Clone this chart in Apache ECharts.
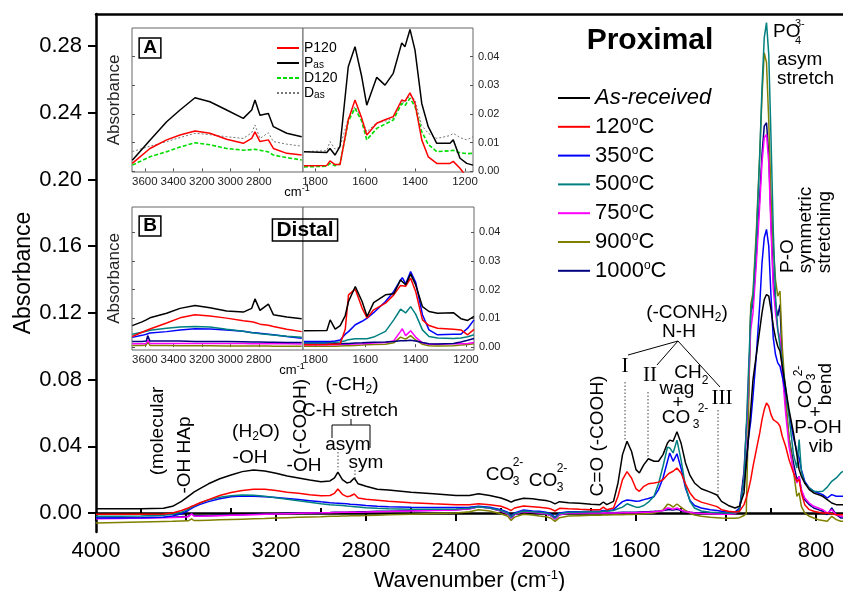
<!DOCTYPE html>
<html>
<head>
<meta charset="utf-8">
<title>Proximal FTIR spectra</title>
<script src="https://cdn.jsdelivr.net/npm/echarts@6/dist/echarts.min.js"></script>
<style>
  html, body {margin:0;padding:0;background:#fff;}
  #chart {width:843px;height:591px;}
</style>
</head>
<body>
<div id="chart"></div>
<script>
// ---- main spectra (wavenumber in cm-1) ----
var wn = [4000,3900,3800,3700,3660,3620,3590,3575,3565,3540,
  3500,3450,3400,3350,3300,3250,3200,3150,3100,3050,
  3000,2960,2940,2925,2905,2885,2870,2852,2835,2800,
  2750,2700,2600,2500,2400,2340,2300,2250,2200,2170,
  2155,2140,2100,2060,2030,2000,1980,1960,1940,1900,
  1850,1800,1760,1745,1730,1700,1680,1660,1640,1620,
  1600,1585,1565,1545,1520,1500,1480,1460,1450,1435,
  1418,1400,1380,1360,1340,1310,1270,1240,1220,1190,
  1160,1140,1120,1110,1100,1090,1080,1065,1050,1040,
  1030,1020,1010,1000,990,980,970,960,950,935,
  920,900,885,875,865,850,830,810,790,770,
  750,730,710,690,680];

var asReceived = [0.0025,0.0025,0.0025,0.0028,0.004,0.007,0.010,0.0115,0.0125,0.0145,
  0.0175,0.0205,0.0228,0.0248,0.0258,0.0252,0.0238,0.0222,0.021,0.0198,
  0.0188,0.0192,0.021,0.0245,0.020,0.018,0.0185,0.021,0.0175,0.016,
  0.0142,0.0138,0.0125,0.0115,0.0105,0.0105,0.0115,0.0105,0.009,0.0075,
  0.0065,0.0075,0.0088,0.0085,0.008,0.0075,0.0068,0.0055,0.0068,0.0062,
  0.0058,0.0052,0.005,0.0066,0.005,0.007,0.018,0.035,0.043,0.037,
  0.026,0.024,0.029,0.0325,0.031,0.031,0.035,0.042,0.0437,0.043,
  0.0487,0.042,0.030,0.0225,0.018,0.0145,0.0125,0.0108,0.007,0.0045,
  0.003,0.004,0.012,0.03,0.045,0.062,0.08,0.095,0.11,0.12,
  0.128,0.131,0.13,0.122,0.112,0.105,0.10,0.097,0.088,0.075,
  0.062,0.048,0.035,0.026,0.022,0.018,0.014,0.012,0.011,0.01,
  0.008,0.006,0.005,0.005,0.005];

var t120 = [-0.0008,-0.0008,-0.0007,-0.0006,0.0,0.0015,0.003,0.004,0.0045,0.006,
  0.008,0.0105,0.0123,0.0135,0.0142,0.0143,0.0135,0.0125,0.0118,0.011,
  0.0103,0.0105,0.0118,0.0144,0.0112,0.0098,0.0102,0.0114,0.009,0.0082,
  0.0076,0.007,0.0062,0.0055,0.005,0.005,0.0055,0.005,0.004,0.0025,
  0.0015,0.003,0.0042,0.0038,0.0035,0.003,0.0025,0.0012,0.0028,0.0025,
  0.0022,0.002,0.002,0.0035,0.002,0.003,0.01,0.02,0.0248,0.021,
  0.0145,0.013,0.016,0.0175,0.018,0.0185,0.02,0.023,0.024,0.025,
  0.027,0.024,0.0175,0.012,0.0085,0.0065,0.005,0.0038,0.002,0.001,
  0.0006,0.001,0.005,0.009,0.014,0.02,0.028,0.038,0.048,0.056,
  0.062,0.066,0.064,0.059,0.056,0.055,0.054,0.052,0.046,0.04,
  0.032,0.024,0.019,0.02,0.012,0.005,0.002,0.001,0.0005,0.0,
  0.0,-0.0005,-0.001,-0.001,-0.001];

var t350 = [-0.003,-0.003,-0.0028,-0.0025,-0.0018,-0.0005,0.0015,0.0028,0.0035,0.005,
  0.0068,0.0085,0.0097,0.0102,0.0101,0.0098,0.0093,0.0087,0.0081,0.0074,
  0.0067,0.0062,0.006,0.0059,0.0057,0.0055,0.0053,0.0051,0.0049,0.0045,
  0.004,0.0037,0.0034,0.0033,0.0033,0.0035,0.004,0.0035,0.002,0.0005,
  -0.002,0.0,0.0018,0.0012,0.001,0.0005,-0.0005,-0.0025,0.0,0.0008,
  0.0008,0.001,0.001,0.0015,0.0012,0.002,0.0045,0.0068,0.0078,0.0075,
  0.007,0.0072,0.008,0.0087,0.0098,0.014,0.021,0.031,0.036,0.031,
  0.0355,0.027,0.015,0.0075,0.0045,0.003,0.002,0.0015,0.001,0.0005,
  0.0005,0.003,0.018,0.03,0.045,0.055,0.07,0.095,0.125,0.15,
  0.165,0.17,0.16,0.13,0.105,0.095,0.09,0.088,0.082,0.072,
  0.06,0.045,0.037,0.033,0.026,0.019,0.015,0.013,0.012,0.011,
  0.009,0.011,0.01,0.01,0.01];

var t500 = [-0.002,-0.002,-0.0018,-0.0014,-0.0008,0.0005,0.0022,0.0035,0.0042,0.0058,
  0.0078,0.0095,0.0104,0.0108,0.0106,0.01,0.0092,0.0083,0.0073,0.0064,
  0.0056,0.005,0.0048,0.0047,0.0045,0.0042,0.004,0.0038,0.0036,0.0032,
  0.0028,0.0025,0.0022,0.0022,0.0024,0.0028,0.0038,0.003,0.0015,0.0,
  -0.0025,-0.0005,0.0012,0.0008,0.0005,0.0,-0.001,-0.003,-0.0005,0.0005,
  0.0006,0.0008,0.0008,0.001,0.001,0.0015,0.0025,0.0035,0.0055,0.0045,
  0.0035,0.0035,0.0045,0.0065,0.010,0.0175,0.028,0.0395,0.039,0.036,
  0.0437,0.032,0.016,0.007,0.003,0.0012,0.0005,0.0003,0.0002,0.0,
  0.0,0.002,0.02,0.05,0.085,0.12,0.13,0.165,0.215,0.255,
  0.285,0.294,0.275,0.225,0.17,0.13,0.11,0.1,0.09,0.075,
  0.058,0.035,0.027,0.044,0.025,0.018,0.015,0.013,0.0128,0.013,
  0.0155,0.019,0.021,0.024,0.025];

var t750 = [-0.0035,-0.0033,-0.003,-0.0028,-0.0027,-0.0025,-0.0022,-0.0005,-0.0018,-0.002,
  -0.0018,-0.0016,-0.0014,-0.0012,-0.001,-0.0008,-0.0006,-0.0004,-0.0002,0.0,
  0.0001,0.0002,0.0003,0.0003,0.0004,0.0004,0.0005,0.0005,0.0005,0.0006,
  0.0008,0.0009,0.0012,0.0015,0.0018,0.0025,0.0038,0.003,0.0012,-0.0005,
  -0.003,-0.001,0.0008,0.0005,0.0,-0.0005,-0.0015,-0.0035,-0.001,0.0,
  0.0,0.0,0.0,0.0002,0.0,0.0,0.0,0.0001,0.0002,0.0002,
  0.0002,0.0003,0.0004,0.0005,0.0008,0.001,0.0015,0.003,0.0028,0.0022,
  0.003,0.0018,0.0008,0.0004,0.0,-0.0003,-0.0005,-0.0006,-0.0007,-0.0008,
  -0.0005,0.002,0.02,0.045,0.08,0.11,0.12,0.15,0.185,0.21,
  0.225,0.227,0.21,0.17,0.135,0.12,0.11,0.105,0.085,0.06,
  0.04,0.025,0.018,0.022,0.014,0.009,0.006,0.004,0.003,0.002,
  0.0,0.002,-0.001,-0.002,-0.002];

var t900 = [-0.006,-0.0057,-0.0054,-0.0051,-0.005,-0.0048,-0.0047,-0.0035,-0.0045,-0.0045,
  -0.0043,-0.0041,-0.0039,-0.0037,-0.0035,-0.0033,-0.003,-0.0028,-0.0026,-0.0024,
  -0.0022,-0.002,-0.0019,-0.0019,-0.0018,-0.0018,-0.0017,-0.0017,-0.0016,-0.0015,
  -0.0013,-0.0011,-0.0007,-0.0003,0.0,0.0008,0.002,0.0012,-0.0005,-0.002,
  -0.0045,-0.0025,-0.0008,-0.0012,-0.0018,-0.0022,-0.003,-0.005,-0.0028,-0.0018,
  -0.0016,-0.0014,-0.0013,-0.0012,-0.0012,-0.0011,-0.001,-0.001,-0.0009,-0.0009,
  -0.0008,-0.0007,-0.0005,-0.0003,0.0,0.0008,0.0018,0.0052,0.005,0.0035,
  0.0054,0.0035,0.0015,0.0,-0.0012,-0.002,-0.0025,-0.0028,-0.003,-0.0032,
  -0.0032,-0.0028,-0.0015,-0.0005,0.06,0.125,0.132,0.17,0.215,0.25,
  0.276,0.27,0.235,0.19,0.16,0.14,0.13,0.133,0.1,0.07,
  0.045,0.025,0.01,0.012,0.004,0.0,-0.002,-0.003,-0.004,-0.0045,
  -0.005,-0.002,-0.004,-0.005,-0.005];

var t1000 = [-0.0032,-0.003,-0.0028,-0.0026,-0.0025,-0.0023,-0.002,-0.0004,-0.0016,-0.0017,
  -0.0016,-0.0014,-0.0012,-0.001,-0.0008,-0.0006,-0.0004,-0.0002,0.0,0.0001,
  0.0002,0.0003,0.0004,0.0004,0.0005,0.0005,0.0006,0.0006,0.0007,0.0008,
  0.001,0.0011,0.0014,0.0017,0.002,0.0026,0.0038,0.003,0.0012,-0.0005,
  -0.003,-0.001,0.0008,0.0005,0.0,-0.0005,-0.0015,-0.0035,-0.001,0.0,
  0.0,0.0,0.0001,0.0002,0.0002,0.0002,0.0003,0.0004,0.0005,0.0005,
  0.0005,0.0006,0.0007,0.0008,0.001,0.0012,0.0015,0.002,0.002,0.0018,
  0.0022,0.0015,0.0008,0.0004,0.0002,0.0,-0.0002,-0.0003,-0.0004,-0.0005,
  -0.0004,0.002,0.025,0.05,0.07,0.12,0.125,0.155,0.19,0.215,
  0.232,0.234,0.215,0.175,0.14,0.125,0.118,0.125,0.09,0.065,
  0.045,0.03,0.02,0.022,0.013,0.008,0.005,0.003,0.002,0.001,
  -0.001,0.003,-0.001,-0.003,-0.003];

var xMajor = [4000,3600,3200,2800,2400,2000,1600,1200,800];
var xMinor = [3800,3400,3000,2600,2200,1800,1400,1000];
var yMajor = [0,0.04,0.08,0.12,0.16,0.20,0.24,0.28];
var yMinor = [0.02,0.06,0.10,0.14,0.18,0.22,0.26];

// ---- inset A (P = proximal, D = distal) ----
var aLeftWn = [3688,3564,3447,3353,3248,3143,3026,2909,2850,2827,2792,2733,2698,2604,2499];
var aLeftP120 = [0.0028,0.008,0.011,0.0127,0.0141,0.0133,0.0112,0.0098,0.0115,0.0138,0.0104,0.011,0.008,0.0063,0.0057];
var aLeftPas = [0.0039,0.0109,0.0173,0.0214,0.0257,0.0243,0.0214,0.0185,0.0214,0.0249,0.0196,0.0202,0.0156,0.0133,0.0121];
var aLeftD120 = [0.0022,0.0051,0.0069,0.0085,0.01,0.0093,0.008,0.0074,0.0076,0.0077,0.0074,0.0068,0.0057,0.0048,0.004];
var aLeftDas = [0.0069,0.0088,0.0104,0.0118,0.0133,0.0128,0.0121,0.0115,0.0135,0.0162,0.0115,0.0135,0.0104,0.0095,0.0088];

var aRightWn = [1844,1753,1740,1720,1700,1667,1640,1613,1593,1553,1520,1487,1453,1440,1420,1400,1373,1347,1313,1260,1247,1220,1193,1168];
var aRightP120 = [0.002,0.0021,0.0037,0.0024,0.0024,0.0179,0.0249,0.0185,0.0127,0.0168,0.018,0.0191,0.0249,0.0245,0.0274,0.0237,0.011,0.0051,0.0028,0.0028,0.0035,0.0011,-0.002,-0.003];
var aRightPas = [0.0069,0.0066,0.008,0.0057,0.0087,0.0365,0.0435,0.033,0.0231,0.0328,0.0301,0.0342,0.0448,0.0435,0.0495,0.0423,0.0237,0.0156,0.0098,0.0098,0.011,0.0046,0.0028,0.0022];
var aRightD120 = [0.0016,0.0018,0.0028,0.002,0.0025,0.0175,0.022,0.0175,0.011,0.015,0.0165,0.0179,0.0237,0.023,0.0255,0.0226,0.0139,0.0094,0.0069,0.0072,0.0074,0.0065,0.0062,0.0063];
var aRightDas = [0.0069,0.0072,0.0104,0.0078,0.0085,0.0185,0.0226,0.0185,0.0138,0.017,0.0175,0.0185,0.0243,0.024,0.0266,0.025,0.016,0.0133,0.0115,0.0125,0.0133,0.0118,0.011,0.0121];

// ---- inset B (distal) ----
var bLeftWn = [3688,3620,3590,3580,3564,3447,3353,3248,3143,3026,2909,2850,2827,2792,2733,2698,2604,2499];
var bLeftAs = [0.0075,0.0088,0.0095,0.0098,0.0102,0.0118,0.0135,0.0145,0.0137,0.0126,0.0122,0.0135,0.0168,0.0128,0.015,0.0113,0.0105,0.0099];
var bLeft120 = [0.0037,0.0052,0.0058,0.006,0.0063,0.0084,0.0102,0.0113,0.0108,0.0101,0.0092,0.0088,0.0086,0.008,0.0076,0.0072,0.0062,0.0054];
var bLeft350 = [0.0034,0.0041,0.0045,0.0047,0.0049,0.0054,0.006,0.0064,0.0063,0.006,0.0055,0.0051,0.005,0.0048,0.0045,0.0043,0.0037,0.0031];
var bLeft500 = [0.0045,0.0052,0.0055,0.0057,0.0059,0.0066,0.007,0.0072,0.007,0.0062,0.0055,0.005,0.0049,0.0047,0.0044,0.0042,0.0038,0.0034];
var bLeft750 = [0.0012,0.0012,0.0013,0.0025,0.0013,0.0013,0.0013,0.0013,0.0013,0.0013,0.0013,0.0012,0.0012,0.0012,0.0012,0.0012,0.0012,0.0011];
var bLeft900 = [0.0006,0.0006,0.0007,0.002,0.0006,0.0006,0.0005,0.0005,0.0005,0.0004,0.0004,0.0004,0.0004,0.0004,0.0004,0.0003,0.0003,0.0003];
var bLeft1000 = [0.002,0.002,0.0021,0.004,0.0021,0.0021,0.0021,0.002,0.002,0.002,0.0019,0.0018,0.0018,0.0018,0.0017,0.0017,0.0016,0.0016];

var bRightWn = [1844,1753,1740,1720,1700,1680,1667,1640,1613,1593,1567,1520,1487,1460,1453,1440,1420,1400,1373,1347,1313,1250,1220,1193,1168];
var bRightAs = [0.0057,0.0058,0.0095,0.0063,0.0075,0.011,0.0159,0.0211,0.0159,0.0107,0.0155,0.0182,0.0186,0.0234,0.024,0.0217,0.0254,0.0217,0.0141,0.0124,0.0118,0.012,0.0099,0.0093,0.0107];
var bRight120 = [0.0008,0.0009,0.001,0.001,0.0012,0.0062,0.0182,0.0202,0.0136,0.0101,0.013,0.0153,0.0182,0.0215,0.022,0.0212,0.024,0.0194,0.0095,0.0075,0.0066,0.0062,0.006,0.0043,0.0062];
var bRight350 = [0.002,0.002,0.002,0.0021,0.0025,0.0045,0.0054,0.0078,0.009,0.0101,0.012,0.0159,0.0194,0.0234,0.0242,0.022,0.0263,0.0226,0.0113,0.006,0.0043,0.0045,0.0045,0.0066,0.0095];
var bRight500 = [0.0016,0.0016,0.0017,0.0017,0.0018,0.0022,0.0026,0.0029,0.0029,0.0029,0.0035,0.0055,0.0095,0.0132,0.0136,0.0119,0.0141,0.0115,0.006,0.0037,0.0032,0.003,0.0032,0.0036,0.0043];
var bRight750 = [0.0008,0.0008,0.0008,0.0008,0.0009,0.001,0.001,0.0011,0.0012,0.0013,0.0014,0.0016,0.0022,0.0055,0.0064,0.004,0.0057,0.0035,0.0015,0.001,0.001,0.0012,0.0012,0.0013,0.0016];
var bRight900 = [0.0003,0.0003,0.0003,0.0003,0.0004,0.0005,0.0005,0.0006,0.0007,0.0008,0.0009,0.001,0.0015,0.0035,0.004,0.0028,0.004,0.0025,0.001,0.0005,0.0004,0.0005,0.0007,0.0009,0.0012];
var bRight1000 = [0.0011,0.0011,0.0011,0.0012,0.0012,0.0013,0.0013,0.0014,0.0015,0.0016,0.0017,0.0018,0.002,0.0022,0.0023,0.0022,0.0024,0.0021,0.0016,0.0012,0.0011,0.0013,0.0018,0.0024,0.003];

var insetLeftTicks = [3600,3400,3200,3000,2800];
var insetRightTicks = [1800,1600,1400,1200];
var insetYTicks = [0,0.01,0.02,0.03,0.04];

var F = 'Arial, "Liberation Sans", sans-serif';
var SERIF = '"Times New Roman", "Liberation Serif", serif';
var C = {as:'#000000', t120:'#ff0000', t350:'#0000ff', t500:'#008080', t750:'#ff00ff', t900:'#808000', t1000:'#000080'};

function zip(xs, ys) {
  return xs.map(function (x, i) { return [x, ys[i]]; });
}
function line(name, xs, ys, color, xi, yi, w, dash) {
  return {
    name: name, type: 'line', xAxisIndex: xi, yAxisIndex: yi,
    data: zip(xs, ys), symbol: 'none', silent: true,
    lineStyle: {color: color, width: w || 1.5, type: dash || 'solid'},
    itemStyle: {color: color}
  };
}
function plain(v) { return String(v); }

var series = [
  line('1000', wn, t1000, C.t1000, 0, 0),
  line('900', wn, t900, C.t900, 0, 0),
  line('750', wn, t750, C.t750, 0, 0),
  line('350', wn, t350, C.t350, 0, 0),
  line('500', wn, t500, C.t500, 0, 0),
  line('120', wn, t120, C.t120, 0, 0),
  line('As-received', wn, asReceived, C.as, 0, 0),
  // inset A
  line('Das', aLeftWn, aLeftDas, '#777', 3, 2, 1, [2, 2]),
  line('D120', aLeftWn, aLeftD120, '#00dd00', 3, 2, 1.6, [4, 2]),
  line('P120', aLeftWn, aLeftP120, C.t120, 3, 2),
  line('Pas', aLeftWn, aLeftPas, C.as, 3, 2),
  line('Das', aRightWn, aRightDas, '#777', 4, 3, 1, [2, 2]),
  line('D120', aRightWn, aRightD120, '#00dd00', 4, 3, 1.6, [4, 2]),
  line('P120', aRightWn, aRightP120, C.t120, 4, 3),
  line('Pas', aRightWn, aRightPas, C.as, 4, 3),
  // inset B
  line('B900', bLeftWn, bLeft900, C.t900, 5, 4),
  line('B750', bLeftWn, bLeft750, C.t750, 5, 4),
  line('B1000', bLeftWn, bLeft1000, C.t1000, 5, 4),
  line('B350', bLeftWn, bLeft350, C.t350, 5, 4),
  line('B500', bLeftWn, bLeft500, C.t500, 5, 4),
  line('B120', bLeftWn, bLeft120, C.t120, 5, 4),
  line('BAs', bLeftWn, bLeftAs, C.as, 5, 4),
  line('B900', bRightWn, bRight900, C.t900, 6, 5),
  line('B750', bRightWn, bRight750, C.t750, 6, 5),
  line('B1000', bRightWn, bRight1000, C.t1000, 6, 5),
  line('B500', bRightWn, bRight500, C.t500, 6, 5),
  line('B350', bRightWn, bRight350, C.t350, 6, 5),
  line('B120', bRightWn, bRight120, C.t120, 6, 5),
  line('BAs', bRightWn, bRightAs, C.as, 6, 5)
];

var axisBlack = {lineStyle: {color: '#000', width: 2.5}};
function insetX(grid, min, max, ticks) {
  return {
    type: 'value', gridIndex: grid, min: min, max: max, inverse: true,
    axisLine: {show: false}, splitLine: {show: false},
    axisTick: {inside: true, length: 3, customValues: ticks, lineStyle: {color: '#555'}},
    axisLabel: {customValues: ticks, fontSize: 11.5, fontFamily: F, color: '#222', margin: 4,
      hideOverlap: false, formatter: plain}
  };
}
function insetY(grid, min, max, showLabels) {
  return {
    type: 'value', gridIndex: grid, min: min, max: max,
    position: showLabels ? 'right' : 'left',
    axisLine: {show: false}, splitLine: {show: false},
    axisTick: {inside: true, length: 3, customValues: insetYTicks, lineStyle: {color: '#555'}},
    axisLabel: {show: showLabels, customValues: insetYTicks, fontSize: 11, fontFamily: F, color: '#222', margin: 5,
      formatter: function (v) { return v.toFixed(2); }},
    name: showLabels ? '' : 'Absorbance', nameLocation: 'middle', nameGap: 9,
    nameTextStyle: {fontSize: 17, fontFamily: F, color: '#222'}
  };
}
function insetGrid(l, t, w, h) {
  return {left: l, top: t, width: w, height: h, outerBoundsMode: 'none', containLabel: false,
    show: true, borderColor: '#666', borderWidth: 1, backgroundColor: '#fff'};
}

var sub = {fontSize: 12, fontFamily: F, lineHeight: 12, verticalAlign: 'bottom'};
var sup = {fontSize: 12, fontFamily: F, lineHeight: 12, verticalAlign: 'top'};
var nrm = {fontSize: 19, fontFamily: F, lineHeight: 22};

function t(x, y, text, o) {
  o = o || {};
  return {
    type: 'text', x: x, y: y, z: 100, silent: true,
    rotation: o.rot ? Math.PI / 2 : 0,
    style: {
      text: text, fill: '#000', fontSize: o.size || 19, fontFamily: o.family || F,
      fontWeight: o.bold ? 'bold' : 'normal',
      align: o.align || 'center', verticalAlign: 'middle',
      rich: o.rich, borderColor: o.box ? '#000' : null, borderWidth: o.box ? 1.5 : 0,
      padding: o.box ? [1, 4, 0, 4] : 0
    }
  };
}
function seg(pts, dotted) {
  return {
    type: 'polyline', z: 100, silent: true,
    shape: {points: pts},
    style: {stroke: dotted ? '#444' : '#000', lineWidth: 1, lineDash: dotted ? [1.5, 2] : null, fill: null}
  };
}
var R = {n: nrm, b: sub, p: sup};
var cmRich = {c: {fontSize: 13, fontFamily: F, lineHeight: 15}, p: {fontSize: 9, fontFamily: F, lineHeight: 9, verticalAlign: 'top'}};

var graphics = [
  t(650, 41, 'Proximal', {size: 30, bold: true}),
  t(150, 48, 'A', {size: 19, bold: true, box: true}),
  t(150, 226, 'B', {size: 19, bold: true, box: true}),
  t(305, 230, 'Distal', {size: 21, bold: true, box: true}),
  t(297, 192, '{c|cm}{p|-1}', {rich: cmRich}),
  t(292, 370, '{c|cm}{p|-1}', {rich: cmRich}),
  // O-H region
  t(158, 431, '(molecular', {rot: true}),
  t(185, 455, '-OH HAp', {rot: true}),
  t(256, 432, '{n|(H}{b|2}{n|O)}', {rich: R}),
  t(250, 458, '-OH'),
  t(301, 417, '(-COOH)', {rot: true}),
  t(304, 466, '-OH'),
  t(352, 385, '{n|(-CH}{b|2}{n|)}', {rich: R}),
  t(350, 411, 'C-H stretch'),
  t(348, 445, 'asym'),
  t(366, 463, 'sym'),
  seg([[332, 438], [332, 425], [370, 425], [370, 448]]),
  seg([[351, 419], [351, 425]]),
  seg([[338, 452], [338, 470]], true),
  seg([[355, 470], [355, 480]], true),
  // carbonate
  t(500, 475, 'CO'), t(516, 482, '3', {size: 12}), t(518, 463, '2-', {size: 12}),
  t(543, 481, 'CO'), t(560, 488, '3', {size: 12}), t(562, 469, '2-', {size: 12}),
  t(598, 436, 'C=O (-COOH)', {rot: true}),
  // amide
  t(687, 313, '{n|(-CONH}{b|2}{n|)}', {rich: R}),
  t(679, 332, 'N-H'),
  seg([[678, 341], [628, 355]]),
  seg([[678, 341], [657, 365]]),
  seg([[678, 341], [720, 387]]),
  t(625, 366, 'I', {family: SERIF, size: 21}),
  t(650, 375, 'II', {family: SERIF, size: 21}),
  t(722, 398, 'III', {family: SERIF, size: 21}),
  seg([[625, 382], [625, 440]], true),
  seg([[648, 392], [648, 457]], true),
  seg([[718, 410], [718, 497]], true),
  t(688, 373, 'CH'), t(705, 381, '2', {size: 12}),
  t(677, 389, 'wag'),
  t(678, 403, '+'),
  t(676, 418, 'CO'), t(696, 425, '3', {size: 12}), t(703, 409, '2-', {size: 12}),
  // phosphate
  t(773, 32, 'PO', {align: 'left'}), t(795, 24, '3-', {size: 11, align: 'left'}), t(795, 41, '4', {size: 11, align: 'left'}),
  t(777, 60, 'asym', {align: 'left'}),
  t(777, 79, 'stretch', {align: 'left'}),
  t(788, 256, 'P-O', {rot: true}),
  t(806, 230, 'symmetric', {rot: true}),
  t(825, 232, 'stretching', {rot: true}),
  t(806, 394, 'CO', {rot: true}), t(812, 377, '3', {size: 12, rot: true}), t(799, 371, '2-', {size: 12, rot: true}),
  t(826, 384, 'bend', {rot: true}),
  t(815, 413, '+'),
  t(818, 428, 'P-OH'),
  t(821, 447, 'vib')
];

var chart = echarts.init(document.getElementById('chart'));
chart.setOption({
  animation: false,
  backgroundColor: '#fff',
  textStyle: {fontFamily: F},
  grid: [
    {left: 96, top: 14, width: 747, height: 518, outerBoundsMode: 'none', containLabel: false},
    insetGrid(132, 28, 171, 144),
    insetGrid(303, 28, 170, 144),
    insetGrid(132, 207, 171, 143),
    insetGrid(303, 207, 171, 143)
  ],
  xAxis: [
    {
      type: 'value', gridIndex: 0, min: 680, max: 4000, inverse: true,
      axisLine: axisBlack, splitLine: {show: false},
      axisTick: {length: 8, customValues: xMajor, lineStyle: {color: '#000', width: 2}},
      axisLabel: {customValues: xMajor, fontSize: 22, fontFamily: F, color: '#000', margin: 8, formatter: plain},
      name: '{n|Wavenumber (cm}{p|-1}{n|)}', nameLocation: 'middle', nameGap: 37,
      nameTextStyle: {rich: {
        n: {fontSize: 22, fontFamily: F, color: '#000', lineHeight: 24},
        p: {fontSize: 13, fontFamily: F, color: '#000', lineHeight: 13, verticalAlign: 'top'}
      }}
    },
    {
      type: 'value', gridIndex: 0, min: 680, max: 4000, inverse: true,
      axisLine: {show: false}, splitLine: {show: false},
      axisTick: {length: 5, customValues: xMinor, lineStyle: {color: '#000', width: 2}},
      axisLabel: {show: false, customValues: xMinor}
    },
    {
      type: 'value', gridIndex: 0, min: 680, max: 4000, inverse: true, position: 'top',
      axisLine: axisBlack, splitLine: {show: false}, axisTick: {show: false}, axisLabel: {show: false}
    },
    insetX(1, 2490, 3690, insetLeftTicks),
    insetX(2, 1168, 1848, insetRightTicks),
    insetX(3, 2490, 3690, insetLeftTicks),
    insetX(4, 1168, 1848, insetRightTicks)
  ],
  yAxis: [
    {
      type: 'value', gridIndex: 0, min: -0.0114, max: 0.2992,
      axisLine: axisBlack, splitLine: {show: false},
      axisTick: {length: 8, customValues: yMajor, lineStyle: {color: '#000', width: 2}},
      axisLabel: {customValues: yMajor, fontSize: 22, fontFamily: F, color: '#000', margin: 14,
        formatter: function (v) { return v.toFixed(2); }},
      name: 'Absorbance', nameLocation: 'middle', nameGap: 61, nameMoveOverlap: false,
      nameTextStyle: {fontSize: 23, fontFamily: F, color: '#000'}
    },
    {
      type: 'value', gridIndex: 0, min: -0.0114, max: 0.2992,
      axisLine: {show: false}, splitLine: {show: false},
      axisTick: {length: 6, customValues: yMinor, lineStyle: {color: '#000', width: 2}},
      axisLabel: {show: false, customValues: yMinor}
    },
    insetY(1, -0.0002, 0.05, false),
    insetY(2, -0.0002, 0.05, true),
    insetY(3, -0.001, 0.0488, false),
    insetY(4, -0.001, 0.0488, true)
  ],
  legend: [
    {
      data: ['As-received', '120', '350', '500', '750', '900', '1000'],
      orient: 'vertical', left: 553, top: 82, itemWidth: 32, itemHeight: 2, itemGap: 6.8,
      icon: 'rect', selectedMode: false,
      formatter: function (name) {
        return name === 'As-received' ? '{it|As-received}' : '{n|' + name + '}{o|o}{n|C}';
      },
      textStyle: {rich: {
        it: {fontSize: 22, fontStyle: 'italic', fontFamily: F, color: '#000', lineHeight: 22},
        n: {fontSize: 22, fontFamily: F, color: '#000', lineHeight: 22},
        o: {fontSize: 12, fontFamily: F, color: '#000', lineHeight: 12, verticalAlign: 'top'}
      }}
    },
    {
      data: ['P120', 'Pas', 'D120', 'Das'],
      orient: 'vertical', left: 271, top: 36, itemWidth: 22, itemHeight: 8, itemGap: 1,
      selectedMode: false,
      itemStyle: {opacity: 0},
      formatter: function (name) {
        if (name === 'Pas') return '{n|P}{s|as}';
        if (name === 'Das') return '{n|D}{s|as}';
        return '{n|' + name + '}';
      },
      textStyle: {rich: {
        n: {fontSize: 14, fontFamily: F, color: '#000', lineHeight: 14},
        s: {fontSize: 10, fontFamily: F, color: '#000', lineHeight: 10, verticalAlign: 'bottom'}
      }}
    }
  ],
  series: series,
  graphic: graphics
});
</script>
</body>
</html>
